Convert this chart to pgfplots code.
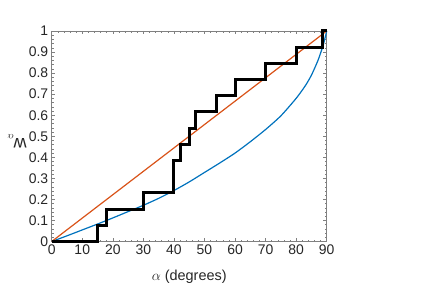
\documentclass[border=0pt]{standalone}
\usepackage{fontspec}
\setmainfont{Liberation Sans}
\usepackage{pgfplots}
\pgfplotsset{compat=1.18}
\definecolor{mblue}{rgb}{0,0.447,0.741}
\definecolor{morange}{rgb}{0.85,0.325,0.098}
\begin{document}
\begin{tikzpicture}
\begin{axis}[name=ax, scale only axis, width=275bp, height=210.5bp,
  xmin=0, xmax=90, ymin=0, ymax=1,
  xtick={0,10,20,30,40,50,60,70,80,90},
  ytick={0,0.1,0.2,0.3,0.4,0.5,0.6,0.7,0.8,0.9,1},
  yticklabels={0,0.1,0.2,0.3,0.4,0.5,0.6,0.7,0.8,0.9,1},
  minor x tick num=4, minor y tick num=4,
  tick align=inside, major tick length=3.5bp, minor tick length=2bp,
  axis line style={black!50, line width=0.5bp},
  every tick/.style={black!50, line width=0.5bp},
  tick label style={font=\fontsize{14}{15}\selectfont, text=black!85},
  /pgf/number format/assume math mode=true,
  clip=false,
  xlabel={$\alpha$ (degrees)},
  xlabel style={at={(axis description cs:0.5,-0.183)}, anchor=base, inner sep=0pt, font=\fontsize{14.5}{15}\selectfont, text=black!85},
  ylabel={{\fontsize{18}{18}\selectfont w}\raisebox{-4bp}{\fontsize{10}{10}\selectfont$\alpha$}},
  ylabel style={at={(axis description cs:-0.126,0.49)}, rotate=90, anchor=base, inner sep=0pt, text=black!85},
]
\addplot[mblue, line width=1.2bp, smooth, tension=0.4] coordinates {
(0,0) (5,0.027) (10,0.055) (15,0.083) (20,0.112) (25,0.142) (30,0.172)
(35,0.205) (40,0.242) (45,0.283) (50,0.328) (55,0.373) (60,0.420)
(65,0.474) (70,0.532) (75,0.597) (80,0.680) (83,0.740) (85,0.790)
(87,0.855) (88,0.895) (89,0.940) (90,1)
};
\addplot[morange, line width=1.2bp] coordinates {(0,0) (90,1)};
\addplot[black, line width=3bp, line join=miter, miter limit=2] coordinates {
(0,0) (15,0) (15,0.0769) (18,0.0769) (18,0.1538) (30,0.1538) (30,0.2308)
(40,0.2308) (40,0.3846) (42,0.3846) (42,0.4615) (45,0.4615) (45,0.5385)
(47,0.5385) (47,0.6154) (54,0.6154) (54,0.6923) (60,0.6923) (60,0.7692)
(70,0.7692) (70,0.8462) (80,0.8462) (80,0.9231) (88.5,0.9231) (88.5,1) (90,1)
};
\end{axis}
\path (ax.south west) ++(-51.7bp,-51.5bp) coordinate (bl);
\path (ax.north east) ++(120.3bp,31bp) coordinate (tr);
\path (bl) rectangle (tr);
\end{tikzpicture}
\end{document}
